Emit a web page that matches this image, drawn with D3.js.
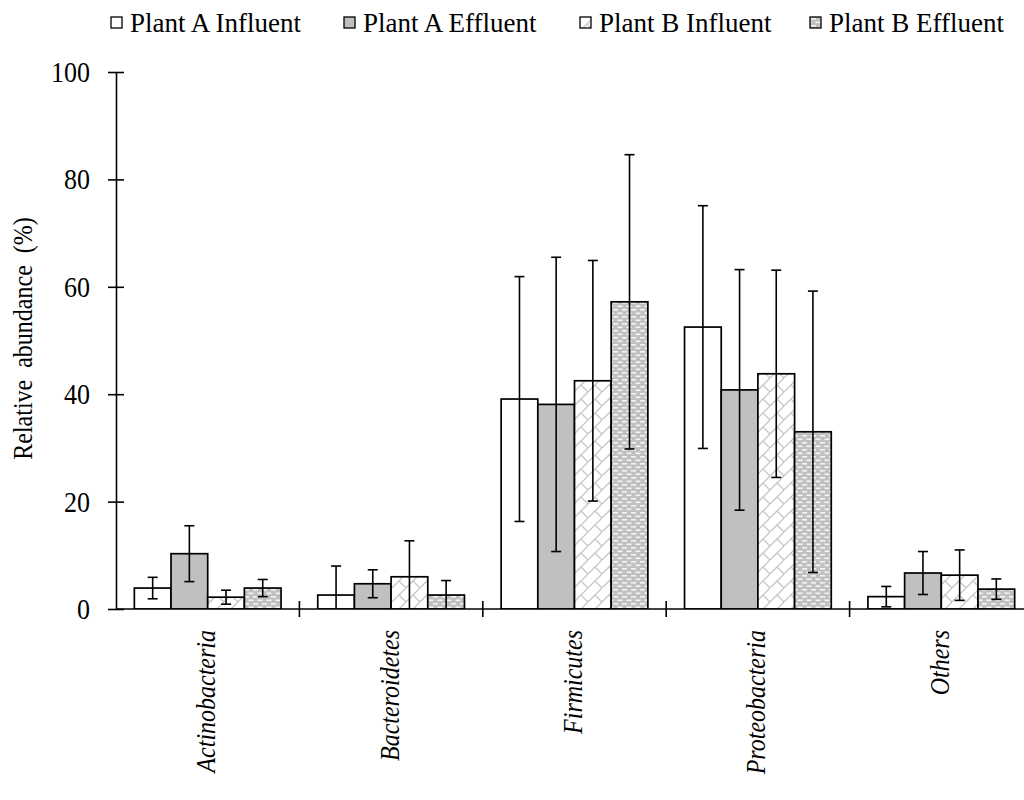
<!DOCTYPE html>
<html>
<head>
<meta charset="utf-8">
<script src="https://cdn.jsdelivr.net/npm/d3@7"></script>
<style>
  body { margin: 0; background: #fff; }
</style>
</head>
<body>
<div id="chart"></div>
<script>
const categories = ["Actinobacteria", "Bacteroidetes", "Firmicutes", "Proteobacteria", "Others"];
const seriesNames = ["Plant A Influent", "Plant A Effluent", "Plant B Influent", "Plant B Effluent"];
// mean values per series, one per category
const plantAInfluent = [3.9, 2.6, 39.1, 52.5, 2.3];
const plantAEffluent = [10.3, 4.7, 38.1, 40.8, 6.7];
const plantBInfluent = [2.2, 6.0, 42.5, 43.8, 6.3];
const plantBEffluent = [3.9, 2.6, 57.2, 33.0, 3.7];
// error (+/-) per series
const errAInfluent = [2.0, 5.4, 22.8, 22.6, 1.9];
const errAEffluent = [5.2, 2.6, 27.4, 22.4, 4.0];
const errBInfluent = [1.3, 6.7, 22.4, 19.3, 4.7];
const errBEffluent = [1.6, 2.7, 27.4, 26.2, 1.9];
const yTicks = [0, 20, 40, 60, 80, 100];

const values = [plantAInfluent, plantAEffluent, plantBInfluent, plantBEffluent];
const errors = [errAInfluent, errAEffluent, errBInfluent, errBEffluent];

const width = 1024, height = 800;
const marginLeft = 116, plotTop = 72, plotBottom = 609;
const catWidth = 183.4;
const serif = '"Liberation Serif", "Times New Roman", serif';

const svg = d3.select('#chart').append('svg')
  .attr('width', width)
  .attr('height', height)
  .style('font-family', serif);

// patterns
const defs = svg.append('defs');
const brick = defs.append('pattern')
  .attr('id', 'brick')
  .attr('patternUnits', 'userSpaceOnUse')
  .attr('width', 14).attr('height', 14);
brick.append('rect').attr('width', 14).attr('height', 14).attr('fill', '#fff');
brick.append('path')
  .attr('d', 'M0,14 L14,0 M7,7 L14,14 M-7,7 L0,14')
  .attr('stroke', '#c8c8c8').attr('stroke-width', 1.4).attr('fill', 'none');

const dots = defs.append('pattern')
  .attr('id', 'dots')
  .attr('patternUnits', 'userSpaceOnUse')
  .attr('width', 9).attr('height', 7);
dots.append('rect').attr('width', 9).attr('height', 7).attr('fill', '#c0c0c0');
dots.append('rect').attr('x', 1).attr('y', 1).attr('width', 5).attr('height', 1.6).attr('fill', '#f4f4f4');
dots.append('rect').attr('x', 5.5).attr('y', 4.5).attr('width', 5).attr('height', 1.6).attr('fill', '#f4f4f4');
dots.append('rect').attr('x', -3.5).attr('y', 4.5).attr('width', 5).attr('height', 1.6).attr('fill', '#f4f4f4');

const fills = ['#ffffff', '#c0c0c0', 'url(#brick)', 'url(#dots)'];

const x = d3.scaleBand()
  .domain(categories)
  .range([marginLeft, marginLeft + catWidth * categories.length]);

const xs = d3.scaleBand()
  .domain(seriesNames)
  .range([x.bandwidth() * 0.1, x.bandwidth() * 0.9]);

const y = d3.scaleLinear()
  .domain([0, 100])
  .range([plotBottom, plotTop]);

svg.append('clipPath').attr('id', 'plotclip')
  .append('rect')
  .attr('x', marginLeft).attr('y', 0)
  .attr('width', width - marginLeft).attr('height', plotBottom);

const plot = svg.append('g').attr('clip-path', 'url(#plotclip)');

const cells = [];
seriesNames.forEach((s, si) => {
  categories.forEach((c, ci) => {
    cells.push({series: s, si: si, cat: c, v: values[si][ci], e: errors[si][ci]});
  });
});

plot.selectAll('rect.bar')
  .data(cells)
  .enter()
  .append('rect')
  .attr('class', 'bar')
  .attr('x', d => x(d.cat) + xs(d.series))
  .attr('y', d => y(d.v))
  .attr('width', xs.bandwidth())
  .attr('height', d => y(0) - y(d.v))
  .attr('fill', d => fills[d.si])
  .attr('stroke', '#000')
  .attr('stroke-width', 1.7);

// error bars
const eb = plot.selectAll('g.err')
  .data(cells)
  .enter()
  .append('g')
  .attr('class', 'err')
  .attr('transform', d => `translate(${x(d.cat) + xs(d.series) + xs.bandwidth() / 2},0)`);

eb.append('line')
  .attr('y1', d => y(d.v + d.e))
  .attr('y2', d => y(d.v - d.e))
  .attr('stroke', '#000').attr('stroke-width', 1.6);
eb.append('line')
  .attr('x1', -5).attr('x2', 5)
  .attr('y1', d => y(d.v + d.e)).attr('y2', d => y(d.v + d.e))
  .attr('stroke', '#000').attr('stroke-width', 1.6);
eb.filter(d => d.v - d.e > 0).append('line')
  .attr('x1', -5).attr('x2', 5)
  .attr('y1', d => y(d.v - d.e)).attr('y2', d => y(d.v - d.e))
  .attr('stroke', '#000').attr('stroke-width', 1.6);

// y axis
const yAxis = svg.append('g')
  .attr('transform', `translate(${marginLeft},0)`)
  .call(d3.axisLeft(y).tickValues(yTicks).tickSize(8).tickSizeOuter(0).tickPadding(18));
yAxis.attr('font-family', null).attr('font-size', null);
yAxis.select('.domain').attr('stroke-width', 1.6);
yAxis.selectAll('.tick line').attr('x2', 8).attr('x1', -8).attr('stroke-width', 1.6);
yAxis.selectAll('.tick text')
  .style('font-family', serif)
  .style('font-size', '26px')
  .attr('x', -26)
  .attr('transform', 'scale(1,1.15)');

// x axis line with boundary ticks
const xAxisG = svg.append('g');
xAxisG.append('line')
  .attr('x1', marginLeft).attr('x2', width)
  .attr('y1', y(0)).attr('y2', y(0))
  .attr('stroke', '#000').attr('stroke-width', 1.6);
const bounds = categories.map(c => x(c)).concat([x.range()[1]]);
xAxisG.selectAll('line.bt')
  .data(bounds.slice(1))
  .enter()
  .append('line')
  .attr('class', 'bt')
  .attr('x1', d => d).attr('x2', d => d)
  .attr('y1', y(0) - 8).attr('y2', y(0) + 8)
  .attr('stroke', '#000').attr('stroke-width', 1.6);

// category labels
svg.selectAll('text.cat')
  .data(categories)
  .enter()
  .append('text')
  .attr('class', 'cat')
  .attr('transform', d => `translate(${x(d) + x.bandwidth() / 2 - 1},630) rotate(-90) scale(1,1.1)`)
  .attr('text-anchor', 'end')
  .attr('dy', '0.32em')
  .style('font-family', serif)
  .style('font-style', 'italic')
  .style('font-size', '24px')
  .text(d => d);

// y title
svg.append('text')
  .attr('transform', `translate(22,${(plotTop + plotBottom) / 2 - 2}) rotate(-90) scale(1,1.15)`)
  .attr('text-anchor', 'middle')
  .attr('dy', '0.35em')
  .style('font-family', serif)
  .style('font-size', '24px')
  .style('white-space', 'pre')
  .text('Relative  abundance  (%)');

// legend
const legendX = [111, 344, 580, 810];
const legend = svg.selectAll('g.leg')
  .data(seriesNames)
  .enter()
  .append('g')
  .attr('class', 'leg')
  .attr('transform', (d, i) => `translate(${legendX[i]},17)`);
legend.append('rect')
  .attr('width', 11).attr('height', 11)
  .attr('fill', (d, i) => fills[i])
  .attr('stroke', '#000').attr('stroke-width', 1.3);
legend.append('text')
  .attr('x', 19).attr('y', 15)
  .style('font-family', serif)
  .style('font-size', '27px')
  .text(d => d);
</script>
</body>
</html>
